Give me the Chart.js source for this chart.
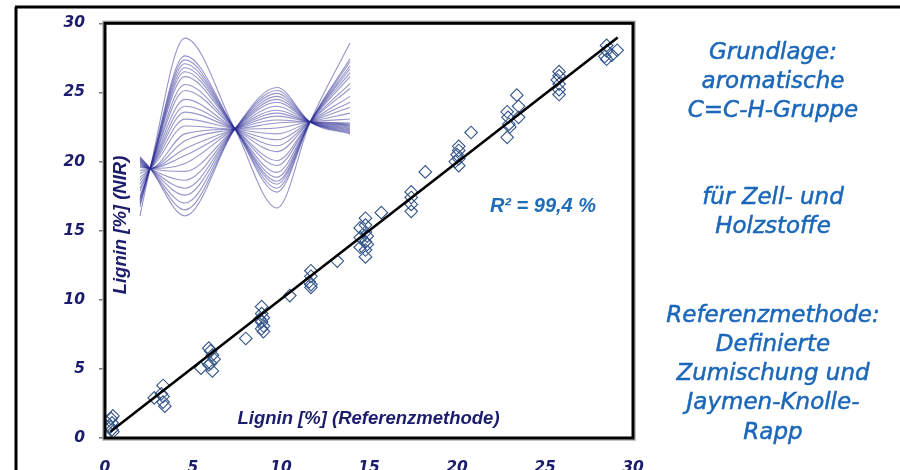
<!DOCTYPE html>
<html><head><meta charset="utf-8">
<script src="https://cdn.jsdelivr.net/npm/chart.js@4/dist/chart.umd.min.js"></script>
<style>html,body{margin:0;padding:0;background:#fff;} #wrap{width:900px;height:470px;position:relative;overflow:hidden;}</style>
</head><body><div id="wrap"><canvas id="c" width="900" height="470"></canvas></div>
<script>
// ---- data ----
const xTicks = [0, 5, 10, 15, 20, 25, 30];
const yTicks = [0, 5, 10, 15, 20, 25, 30];

const refX = [
  0.45, 0.35, 0.4, 0.3, 0.4, 0.45,
  2.8, 3.2, 3.3, 3.3, 3.4, 3.3,
  5.9, 6.0, 6.1, 6.0, 6.2, 5.45, 6.1, 5.9,
  8.0,
  8.9, 8.9, 9.0, 8.9, 9.0, 8.9, 9.0, 8.8,
  10.5,
  11.7, 11.7, 11.6, 11.7, 11.7,
  13.2,
  14.8, 14.8, 14.5, 14.8, 14.9, 14.5, 14.8, 14.9, 14.5, 14.8, 14.8,
  15.7,
  17.4, 17.4, 17.4, 17.4,
  18.2,
  20.1, 20.1, 20.0, 20.1, 19.9, 20.1,
  20.8,
  23.4, 23.5, 23.5, 22.85, 22.9, 22.95, 23.0, 22.85,
  25.8, 25.8, 25.7, 25.8, 25.8, 25.8,
  28.5, 28.5, 28.4, 29.1, 28.8, 28.5
];
const nirY = [
  1.6, 1.4, 1.1, 0.8, 0.6, 0.45,
  2.9, 3.2, 3.8, 2.6, 2.3, 3.0,
  6.5, 6.3, 6.0, 5.4, 5.7, 5.05, 4.85, 5.3,
  7.2,
  9.5, 9.0, 8.7, 8.4, 8.1, 7.9, 7.7, 8.6,
  10.3,
  12.1, 11.7, 11.3, 11.1, 10.9,
  12.8,
  15.9, 15.4, 15.2, 14.9, 14.6, 14.5, 14.2, 14.0, 13.8, 13.6, 13.1,
  16.3,
  17.8, 17.4, 16.9, 16.4,
  19.25,
  21.1, 20.8, 20.5, 20.2, 20.0, 19.7,
  22.1,
  24.8, 24.0, 23.2, 23.6, 23.2, 22.7, 22.5, 21.75,
  26.5, 26.2, 25.9, 25.6, 25.2, 24.85,
  28.4, 28.0, 27.6, 28.05, 27.7, 27.4
];

const fitX = [0.3, 29.13];
const fitY = [0.45, 28.97];

// inset NIR spectra (arbitrary units)
const specX = [0, 0.48, 2.14, 4.52, 6.52, 8.1, 10];
const spectra = [
  [0.0, 4.8, 18.0, 8.8, 0.8, 9.5, 17.5],
  [0.9, 4.8, 16.2, 8.8, 2.4, 9.5, 15.9],
  [1.2, 4.8, 15.8, 8.8, 2.8, 9.5, 15.6],
  [1.4, 4.8, 15.4, 8.8, 3.2, 9.5, 15.2],
  [1.6, 4.8, 15.0, 8.8, 3.5, 9.5, 14.9],
  [1.8, 4.8, 14.6, 8.8, 3.9, 9.5, 14.5],
  [2.0, 4.8, 14.1, 8.8, 4.4, 9.5, 14.1],
  [2.5, 4.8, 13.3, 8.8, 5.1, 9.5, 13.4],
  [2.8, 4.8, 12.7, 8.8, 5.6, 9.5, 12.9],
  [3.2, 4.8, 11.8, 8.8, 6.5, 9.5, 12.1],
  [3.6, 4.8, 11.1, 8.8, 7.1, 9.5, 11.5],
  [3.9, 4.8, 10.5, 8.8, 7.7, 9.5, 11.0],
  [4.3, 4.8, 9.8, 8.8, 8.3, 9.5, 10.4],
  [4.6, 4.8, 9.1, 8.8, 8.9, 9.5, 9.8],
  [4.9, 4.8, 8.3, 8.8, 9.4, 9.5, 9.4],
  [5.0, 4.8, 7.6, 8.8, 9.7, 9.5, 9.3],
  [5.1, 4.8, 6.8, 8.8, 10.1, 9.5, 9.2],
  [5.2, 4.8, 6.1, 8.8, 10.4, 9.5, 9.1],
  [5.3, 4.8, 5.3, 8.8, 10.7, 9.5, 9.0],
  [5.4, 4.8, 4.5, 8.8, 11.1, 9.5, 8.9],
  [5.5, 4.8, 3.6, 8.8, 11.5, 9.5, 8.8],
  [5.6, 4.8, 2.8, 8.8, 11.8, 9.5, 8.7],
  [5.7, 4.8, 2.1, 8.8, 12.1, 9.5, 8.6],
  [5.8, 4.8, 1.3, 8.8, 12.4, 9.5, 8.5],
  [5.9, 4.8, 0.6, 8.8, 12.7, 9.5, 8.4],
  [6.0, 4.8, 0.0, 8.8, 13.0, 9.5, 8.3]
];

const xTitle = "Lignin [%] (Referenzmethode)";
const yTitle = "Lignin [%] (NIR)";
const r2Text = "R\u00B2 = 99,4 %";
const sideBlocks = [
  ["Grundlage:", "aromatische", "C=C-H-Gruppe"],
  ["für Zell- und", "Holzstoffe"],
  ["Referenzmethode:", "Definierte", "Zumischung und", "Jaymen-Knolle-", "Rapp"]
];

// ---- chart ----
const navy = '#1c1c6c';
const tickFont = {family: 'DejaVu Sans', size: 15.5, weight: 'bold', style: 'italic'};

const datasets = [];
datasets.push({
  type: 'line', label: 'fit', order: 0,
  data: fitX.map((x, i) => ({x: x, y: fitY[i]})),
  borderColor: '#000', borderWidth: 2.6, pointRadius: 0, fill: false,
  xAxisID: 'x', yAxisID: 'y'
});
datasets.push({
  type: 'scatter', label: 'samples', order: 1,
  data: refX.map((x, i) => ({x: x, y: nirY[i]})),
  pointStyle: 'rectRot', pointRadius: 6.3, borderWidth: 1.1,
  borderColor: '#34558a', backgroundColor: 'rgba(255,255,255,0)',
  xAxisID: 'x', yAxisID: 'y'
});
spectra.forEach((s, k) => {
  datasets.push({
    type: 'line', label: 'spec' + k, order: 2,
    data: specX.map((x, i) => ({x: x, y: s[i]})),
    borderColor: 'rgba(45,45,150,0.5)', borderWidth: 1.1, pointRadius: 0,
    cubicInterpolationMode: 'monotone', fill: false,
    xAxisID: 'sx', yAxisID: 'sy'
  });
});

const decor = {
  id: 'decor',
  beforeDraw(chart) {
    const ctx = chart.ctx;
    ctx.save();
    ctx.strokeStyle = '#000';
    ctx.lineWidth = 3;
    ctx.beginPath();
    ctx.moveTo(15, 7); ctx.lineTo(900, 7);
    ctx.moveTo(16, 7); ctx.lineTo(16, 470);
    ctx.stroke();
    ctx.restore();
  },
  afterDraw(chart) {
    const ctx = chart.ctx;
    const a = chart.chartArea;
    ctx.save();
    // frame shadow + frame
    ctx.strokeStyle = '#b0b0b0';
    ctx.lineWidth = 1.5;
    ctx.strokeRect(a.left - 2, a.top - 2, a.right - a.left + 4, a.bottom - a.top + 4);
    ctx.strokeStyle = '#000';
    ctx.lineWidth = 3;
    ctx.strokeRect(a.left, a.top, a.right - a.left, a.bottom - a.top);

    // axis titles inside plot
    ctx.fillStyle = navy;
    ctx.font = 'italic bold 18.5px "Liberation Sans", Arial, sans-serif';
    ctx.textAlign = 'center';
    ctx.textBaseline = 'alphabetic';
    ctx.fillText(xTitle, 368.5, 424);
    ctx.save();
    ctx.translate(126, 225);
    ctx.rotate(-Math.PI / 2);
    ctx.fillText(yTitle, 0, 0);
    ctx.restore();

    // R^2
    ctx.fillStyle = '#1f6cb8';
    ctx.font = 'italic bold 20px "Liberation Sans", Arial, sans-serif';
    ctx.fillText(r2Text, 543, 212);

    // side text
    ctx.fillStyle = '#1b67b9';
    ctx.strokeStyle = '#1b67b9';
    ctx.lineWidth = 0.5;
    ctx.font = 'italic 23px "DejaVu Sans", sans-serif';
    const starts = [58.5, 204, 321.7];
    const lh = 29.2;
    sideBlocks.forEach((blk, b) => {
      blk.forEach((line, i) => {
        ctx.fillText(line, 773, starts[b] + i * lh);
        ctx.strokeText(line, 773, starts[b] + i * lh);
      });
    });
    ctx.restore();
  }
};

new Chart(document.getElementById('c'), {
  type: 'scatter',
  data: {datasets: datasets},
  options: {
    responsive: false,
    animation: false,
    events: [],
    layout: {padding: {top: 18, right: 267, left: 0, bottom: 0}},
    plugins: {legend: {display: false}, tooltip: {enabled: false}},
    scales: {
      x: {
        type: 'linear', position: 'bottom', min: 0, max: 30,
        afterBuildTicks: s => { s.ticks = xTicks.map(v => ({value: v})); },
        afterFit: s => { s.height = 32; },
        grid: {display: false, drawTicks: false},
        border: {display: false},
        ticks: {font: tickFont, color: navy, padding: 21, autoSkip: false, maxRotation: 0}
      },
      y: {
        type: 'linear', position: 'left', min: 0, max: 30,
        afterBuildTicks: s => { s.ticks = yTicks.map(v => ({value: v})); },
        afterFit: s => { s.width = 105; },
        grid: {display: true, drawOnChartArea: false, drawTicks: true, tickLength: 6, color: '#777', lineWidth: 1.5},
        border: {display: false},
        ticks: {font: tickFont, color: navy, padding: 14, autoSkip: false}
      },
      sx: {type: 'linear', display: false, min: -1.667, max: 23.476},
      sy: {type: 'linear', display: false, min: -22.5, max: 19.5}
    }
  },
  plugins: [decor]
});
</script>
</body></html>
